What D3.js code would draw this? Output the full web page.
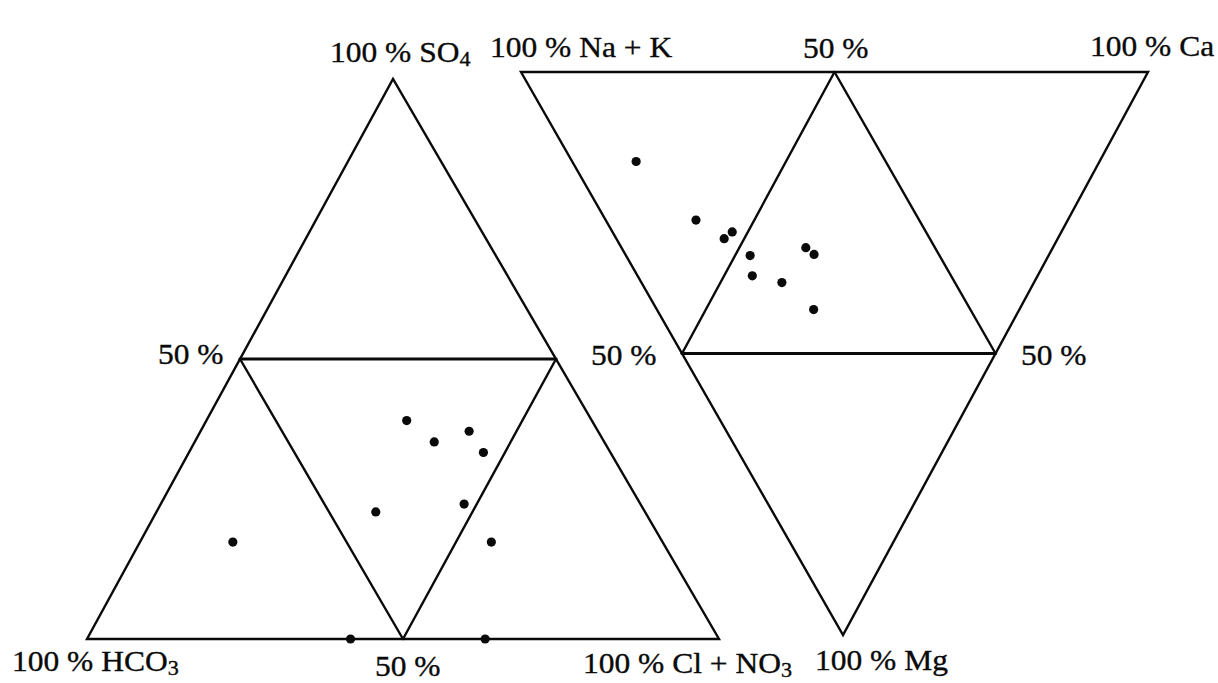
<!DOCTYPE html>
<html>
<head>
<meta charset="utf-8">
<script src="https://cdn.jsdelivr.net/npm/d3@7/dist/d3.min.js"></script>
<style>
  html, body { margin: 0; padding: 0; background: #ffffff; }
  svg { display: block; }
  text { font-family: "Liberation Serif", "Times New Roman", serif; fill: #0a0a0a; stroke: #0a0a0a; stroke-width: 0.35px; }
</style>
</head>
<body>
<svg id="chart" width="1218" height="683"></svg>
<script>
// ---- Data (percent of meq) ----
// Anion triangle samples
const anionSO4  = [39.0, 35.2, 37.1, 33.3, 22.7, 24.1, 17.3, 17.3, 0.0, 0.0];
const anionCl   = [31.7, 37.9, 42.5, 46.6, 34.7, 48.0, 55.6, 14.7, 41.7, 63.0];
const anionHCO3 = anionSO4.map((s, i) => +(100 - s - anionCl[i]).toFixed(1));

// Cation triangle samples
const cationMg = [15.9, 26.3, 28.4, 29.6, 32.6, 31.2, 32.4, 36.2, 37.4, 42.2];
const cationCa = [10.2, 14.4, 19.1, 17.2, 19.8, 29.4, 30.1, 18.3, 22.4, 25.0];
const cationNaK = cationMg.map((m, i) => +(100 - m - cationCa[i]).toFixed(1));

// Vertex / tick labels
const anionLabels  = { left: "100 % HCO", leftSub: "3", right: "100 % Cl + NO", rightSub: "3", top: "100 % SO", topSub: "4" };
const cationLabels = { left: "100 % Na + K", right: "100 % Ca", bottom: "100 % Mg" };
const halfLabel = "50 %";

// ---- Layout ----
const svg = d3.select("#chart");
const ink = "#0a0a0a";

// Anion triangle: HCO3 bottom-left, Cl+NO3 bottom-right, SO4 top
const aApex = 0.4842;
const ax = d3.scaleLinear().domain([0, 100]).range([87, 719]);
const ay = d3.scaleLinear().domain([0, 100]).range([639, 79]);
const aProj = (hco3, cl, so4) => [ax(cl + so4 * aApex), ay(so4)];

// Cation triangle: Na+K top-left, Ca top-right, Mg bottom
const cApex = 0.5136;
const cx = d3.scaleLinear().domain([0, 100]).range([521, 1148]);
const cy = d3.scaleLinear().domain([0, 100]).range([72, 635]);
const cProj = (nak, ca, mg) => [cx(ca + mg * cApex), cy(mg)];

const line = d3.line();

function seg(p1, p2, w) {
  svg.append("path").attr("d", line([p1, p2]))
    .attr("stroke", ink).attr("stroke-width", w).attr("fill", "none")
    .attr("stroke-linecap", "round");
}

// Anion outline + inner divisions
const aL = aProj(100, 0, 0), aR = aProj(0, 100, 0), aT = aProj(0, 0, 100);
const aMidL = aProj(50, 0, 50), aMidR = aProj(0, 50, 50), aMidB = aProj(50, 50, 0);
svg.append("path").attr("d", line([aL, aR, aT]) + "Z")
  .attr("stroke", ink).attr("stroke-width", 2.4).attr("fill", "none").attr("stroke-linejoin", "miter");
seg(aMidL, aMidR, 3.2);
seg(aMidL, aMidB, 2.4);
seg(aMidB, aMidR, 2.4);

// Cation outline + inner divisions
const cL = cProj(100, 0, 0), cR = cProj(0, 100, 0), cB = cProj(0, 0, 100);
const cMidT = cProj(50, 50, 0), cMidL = cProj(50, 0, 50), cMidR = cProj(0, 50, 50);
svg.append("path").attr("d", line([cL, cR, cB]) + "Z")
  .attr("stroke", ink).attr("stroke-width", 2.4).attr("fill", "none").attr("stroke-linejoin", "miter");
seg(cMidL, cMidR, 3.2);
seg(cMidT, cMidL, 2.4);
seg(cMidT, cMidR, 2.4);

// Points
const anionPts = anionSO4.map((s, i) => aProj(anionHCO3[i], anionCl[i], s));
svg.append("g").selectAll("circle").data(anionPts).join("circle")
  .attr("cx", d => d[0]).attr("cy", d => d[1]).attr("r", 4.6).attr("fill", ink);

const cationPts = cationMg.map((m, i) => cProj(cationNaK[i], cationCa[i], m));
svg.append("g").selectAll("circle").data(cationPts).join("circle")
  .attr("cx", d => d[0]).attr("cy", d => d[1]).attr("r", 4.6).attr("fill", ink);

// Labels: scanned type is slightly wide -> scale x
const fs = 30, sx = 1.05;
function label(x, y, main, sub) {
  const t = svg.append("text")
    .attr("transform", `translate(${x},${y}) scale(${sx},1)`)
    .attr("font-size", fs);
  t.append("tspan").text(main);
  if (sub) t.append("tspan").attr("font-size", fs * 0.7).attr("dy", 4).text(sub);
  return t;
}
label(330, 62, anionLabels.top, anionLabels.topSub);
label(490, 57, cationLabels.left);
label(803, 58, halfLabel);
label(1090, 56, cationLabels.right);
label(158, 364, halfLabel);
label(591, 365, halfLabel);
label(1021, 365, halfLabel);
label(12, 671, anionLabels.left, anionLabels.leftSub);
label(375, 676, halfLabel);
label(583, 673, anionLabels.right, anionLabels.rightSub);
label(815, 670, cationLabels.bottom);
</script>
</body>
</html>
